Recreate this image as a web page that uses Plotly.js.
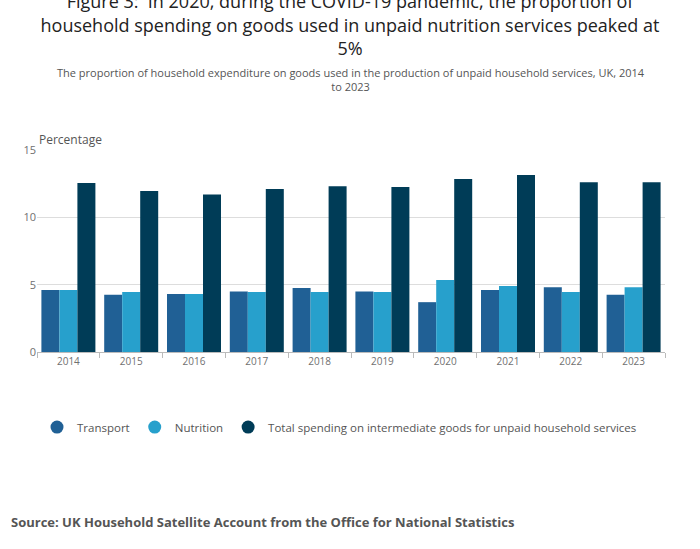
<!DOCTYPE html>
<html>
<head>
<meta charset="utf-8">
<script src="https://cdn.plot.ly/plotly-3.0.1.min.js"></script>
<style>html,body{margin:0;padding:0;background:#fff}#chart{width:700px;height:549px}</style>
</head>
<body>
<div id="chart"></div>
<script>
const years = ['2014', '2015', '2016', '2017', '2018', '2019', '2020', '2021', '2022', '2023'];
const transport = [4.6, 4.25, 4.3, 4.5, 4.75, 4.5, 3.7, 4.6, 4.8, 4.25];
const nutrition = [4.6, 4.45, 4.3, 4.45, 4.45, 4.45, 5.35, 4.9, 4.45, 4.8];
const total = [12.55, 11.95, 11.7, 12.1, 12.3, 12.25, 12.85, 13.15, 12.6, 12.6];

const series = [
    ['Transport', transport, '#206095'],
    ['Nutrition', nutrition, '#27a0cc'],
    ['Total spending on intermediate goods for unpaid household services', total, '#003c57'],
];

const data = [];
series.forEach(([name, y, color]) => {
    data.push({
        x: years, y, name, type: 'bar', showlegend: false,
        marker: { color },
        hovertemplate: `%{x}<br>${name}: %{y}%<extra></extra>`,
    });
});
// circle markers for the legend only
series.forEach(([name, , color]) => {
    data.push({
        x: [null], y: [null], name, type: 'scatter', mode: 'markers',
        marker: { color, size: 13, symbol: 'circle' }, hoverinfo: 'skip',
    });
});

const grey = '#707070';
const layout = {
    width: 700, height: 549,
    paper_bgcolor: '#fff', plot_bgcolor: '#fff',
    font: { family: 'Open Sans, sans-serif', size: 11, color: grey },
    margin: { l: 37, r: 35, t: 150, b: 197 },
    bargap: 0.14, bargroupgap: 0,
    title: {
        text: 'Figure 3:  In 2020, during the COVID-19 pandemic, the proportion of<br>household spending on goods used in unpaid nutrition services peaked at<br>5%',
        font: { size: 18, color: '#222' },
        x: 0.5, xanchor: 'center', yref: 'container', y: 0.985, yanchor: 'top',
    },
    xaxis: {
        type: 'category', tickmode: 'array', tickvals: years, tickson: 'boundaries',
        showline: true, linecolor: '#bbb', ticks: 'outside', tickcolor: '#bbb', ticklen: 5,
        tickfont: { size: 10, color: grey },
    },
    yaxis: {
        range: [0, 15], tickvals: [0, 5, 10, 15], showgrid: true, gridcolor: '#ddd',
        zeroline: false, tickfont: { size: 11, color: grey },
    },
    legend: {
        orientation: 'h', x: 0.0, xanchor: 'left', y: -0.3, yanchor: 'top',
        font: { size: 11.5, color: '#555' }, itemwidth: 30,
    },
    annotations: [
        {
            text: 'The proportion of household expenditure on goods used in the production of unpaid household services, UK, 2014<br>to 2023',
            xref: 'paper', yref: 'paper', x: 0.5, y: 1.43, xanchor: 'center', yanchor: 'top',
            showarrow: false, font: { size: 11, color: '#555' },
        },
        {
            text: 'Percentage', xref: 'paper', yref: 'paper', x: 0, y: 1.0,
            xanchor: 'left', yanchor: 'bottom', showarrow: false, font: { size: 12, color: '#555' },
        },
        {
            text: '<b>Source: UK Household Satellite Account from the Office for National Statistics</b>',
            xref: 'paper', yref: 'paper', x: -0.045, y: -0.84, xanchor: 'left', yanchor: 'middle',
            showarrow: false, font: { size: 13, color: '#555' },
        },
    ],
};

Plotly.newPlot('chart', data, layout, { displayModeBar: false });
</script>
</body>
</html>
